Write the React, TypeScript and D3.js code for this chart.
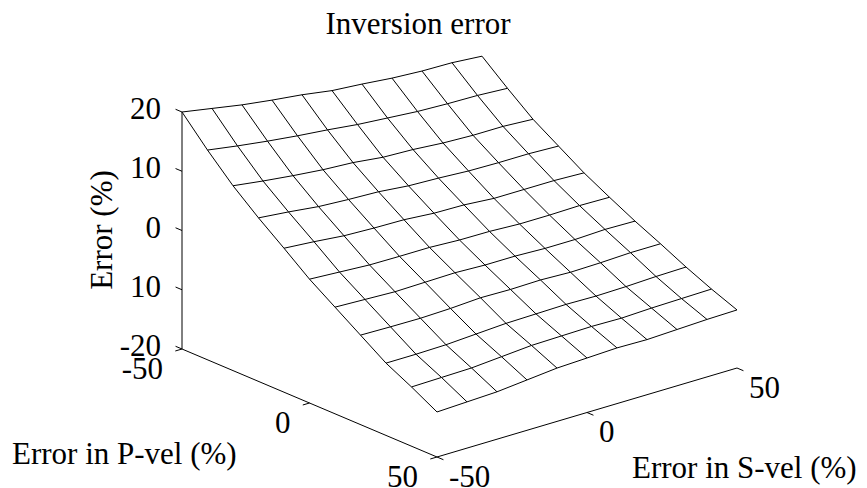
import React from "react";
import * as d3 from "d3";

// Grid coordinates of the error surface
const pVelGrid = [-50, -40, -30, -20, -10, 0, 10, 20, 30, 40, 50];
const sVelGrid = [-50, -40, -30, -20, -10, 0, 10, 20, 30, 40, 50];

// Inversion error (%) — one row per P-vel error, one column per S-vel error
const inversionError = [
  [20.0, 19.1, 18.2, 17.5, 16.9, 16.1, 15.7, 15.2, 14.9, 14.8, 14.4],
  [15.4, 14.6, 13.9, 13.3, 12.8, 12.2, 11.8, 11.4, 11.2, 11.1, 10.8],
  [11.2, 10.5, 9.9, 9.4, 9.1, 8.5, 8.3, 7.9, 7.7, 7.7, 7.4],
  [7.6, 7.1, 6.5, 6.2, 6.0, 5.5, 5.3, 5.0, 4.9, 4.9, 4.7],
  [4.3, 3.9, 3.4, 3.2, 3.1, 2.7, 2.6, 2.2, 2.2, 2.2, 2.0],
  [0.9, 0.6, 0.3, 0.25, 0.25, 0.0, -0.05, -0.3, -0.3, -0.2, -0.3],
  [-2.0, -2.2, -2.4, -2.3, -2.2, -2.4, -2.4, -2.6, -2.6, -2.4, -2.5],
  [-4.9, -5.0, -5.05, -4.9, -4.6, -4.7, -4.6, -4.8, -4.7, -4.5, -4.5],
  [-7.8, -7.8, -7.7, -7.4, -7.1, -7.0, -6.9, -7.0, -6.9, -6.7, -6.6],
  [-10.0, -9.9, -9.8, -9.4, -9.0, -8.9, -8.8, -8.9, -8.7, -8.6, -8.5],
  [-12.4, -12.2, -12.0, -11.5, -11.0, -10.8, -10.6, -10.7, -10.5, -10.3, -10.2],
];

// Axis ticks
const pTicks = [-50, 0, 50];
const sTicks = [-50, 0, 50];
const zTicks = [20, 10, 0, -10, -20];
const zTickLabels = ["20", "10", "0", "10", "-20"];

const W = 867;
const H = 488;
const FONT = "'Liberation Serif', 'Times New Roman', serif";
const FS = 31;

// Oblique projection of (P, S, z) onto the page
const ORIGIN = { x: 182, y: 349 };
const pX = d3.scaleLinear().domain([-50, 50]).range([0, 255]);
const pY = d3.scaleLinear().domain([-50, 50]).range([0, 108]);
const sX = d3.scaleLinear().domain([-50, 50]).range([0, 300]);
const sY = d3.scaleLinear().domain([-50, 50]).range([0, -89]);
const zY = d3.scaleLinear().domain([-20, 20]).range([0, -237]);

function project(p: number, s: number, z: number): [number, number] {
  return [ORIGIN.x + pX(p) + sX(s), ORIGIN.y + pY(p) + sY(s) + zY(z)];
}

const unit = (dx: number, dy: number) => {
  const l = Math.hypot(dx, dy);
  return [dx / l, dy / l];
};
const TICK = 7;
const [pdx, pdy] = unit(pX(50) - pX(-50), pY(50) - pY(-50));
const [sdx, sdy] = unit(sX(50) - sX(-50), sY(50) - sY(-50));

export default function App() {
  const line = d3.line<[number, number]>();
  const zMin = -20;

  const rows = pVelGrid.map((p, i) =>
    line(sVelGrid.map((s, j) => project(p, s, inversionError[i][j])))
  );
  const cols = sVelGrid.map((s, j) =>
    line(pVelGrid.map((p, i) => project(p, s, inversionError[i][j])))
  );

  // Faces drawn back to front, filled white
  const faces: { d: string; depth: number }[] = [];
  for (let i = 0; i < pVelGrid.length - 1; i++) {
    for (let j = 0; j < sVelGrid.length - 1; j++) {
      const pts = [
        project(pVelGrid[i], sVelGrid[j], inversionError[i][j]),
        project(pVelGrid[i], sVelGrid[j + 1], inversionError[i][j + 1]),
        project(pVelGrid[i + 1], sVelGrid[j + 1], inversionError[i + 1][j + 1]),
        project(pVelGrid[i + 1], sVelGrid[j], inversionError[i + 1][j]),
      ];
      faces.push({ d: line(pts) + "Z", depth: i - j });
    }
  }
  faces.sort((a, b) => a.depth - b.depth);

  const zAxisTop = project(-50, -50, 20);
  const zAxisBot = project(-50, -50, zMin);
  const pAxisEnd = project(50, -50, zMin);
  const sAxisEnd = project(50, 50, zMin);

  return (
    <svg
      width={W}
      height={H}
      style={{ position: "absolute", left: 0, top: 0, background: "#fff" }}
      fontFamily={FONT}
      fontSize={FS}
    >
      <rect width={W} height={H} fill="#fff" />
      <text x={418} y={34} textAnchor="middle" fill="#000">
        Inversion error
      </text>

      {/* axes */}
      <g stroke="#000" strokeWidth={1} fill="none">
        <line x1={zAxisTop[0]} y1={zAxisTop[1]} x2={zAxisBot[0]} y2={zAxisBot[1]} />
        <line x1={zAxisBot[0]} y1={zAxisBot[1]} x2={pAxisEnd[0]} y2={pAxisEnd[1]} />
        <line x1={pAxisEnd[0]} y1={pAxisEnd[1]} x2={sAxisEnd[0]} y2={sAxisEnd[1]} />
        {zTicks.map((z) => {
          const [x, y] = project(-50, -50, z);
          return <line key={"zt" + z} x1={x} y1={y} x2={x - pdx * TICK} y2={y - pdy * TICK} />;
        })}
        {pTicks.map((p) => {
          const [x, y] = project(p, -50, zMin);
          return <line key={"pt" + p} x1={x} y1={y} x2={x - sdx * TICK} y2={y - sdy * TICK} />;
        })}
        {sTicks.map((s) => {
          const [x, y] = project(50, s, zMin);
          return <line key={"st" + s} x1={x} y1={y} x2={x + pdx * TICK} y2={y + pdy * TICK} />;
        })}
      </g>

      {/* tick labels */}
      <g fill="#000">
        {zTicks.map((z, k) => {
          const [, y] = project(-50, -50, z);
          return (
            <text key={"zl" + z} x={161} y={y + 7} textAnchor="end">
              {zTickLabels[k]}
            </text>
          );
        })}
        {pTicks.map((p) => {
          const [x, y] = project(p, -50, zMin);
          return (
            <text key={"pl" + p} x={x - 19} y={y + 29.5} textAnchor="end">
              {p}
            </text>
          );
        })}
        {sTicks.map((s) => {
          const [x, y] = project(50, s, zMin);
          return (
            <text key={"sl" + s} x={x + 12} y={y + 29.5} textAnchor="start">
              {s}
            </text>
          );
        })}
      </g>

      {/* axis titles */}
      <g fill="#000">
        <text transform="translate(112,230) rotate(-90)" textAnchor="middle">
          Error (%)
        </text>
        <text x={12} y={464} textAnchor="start">
          Error in P-vel (%)
        </text>
        <text x={632} y={478} textAnchor="start">
          Error in S-vel (%)
        </text>
      </g>

      {/* mesh surface */}
      <g fill="#fff" stroke="none">
        {faces.map((f, k) => (
          <path key={"f" + k} d={f.d} />
        ))}
      </g>
      <g fill="none" stroke="#000" strokeWidth={1} strokeLinejoin="round">
        {rows.map((d, k) => (
          <path key={"r" + k} d={d ?? ""} />
        ))}
        {cols.map((d, k) => (
          <path key={"c" + k} d={d ?? ""} />
        ))}
      </g>
    </svg>
  );
}
